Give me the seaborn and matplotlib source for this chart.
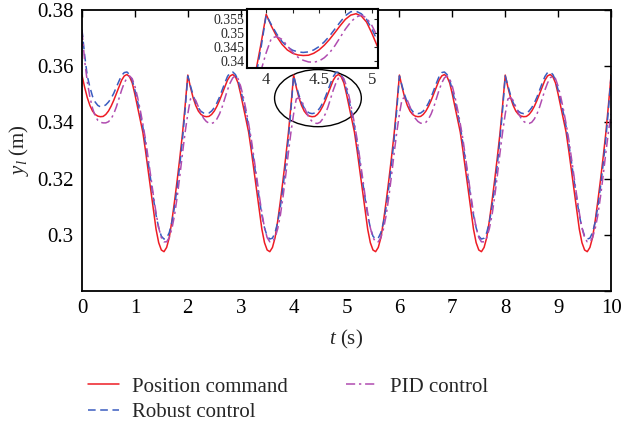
'''Position tracking y_l(t): command vs robust vs PID control, with zoom inset
'''

import numpy as np
import pandas as pd
import matplotlib
matplotlib.use('Agg')
import matplotlib.pyplot as plt
import seaborn as sns
from matplotlib.patches import Ellipse


step = 0.05
n_cycles = 5

cmd_cycle = [0.3568, 0.3525, 0.3488, 0.3460, 0.3440, 0.3428, 0.3422, 0.3420,
             0.3421, 0.3428, 0.3440, 0.3457, 0.3478, 0.3502, 0.3527, 0.3550,
             0.3565, 0.3570, 0.3562, 0.3540, 0.3500, 0.3455, 0.3410, 0.3365,
             0.3300, 0.3230, 0.3160, 0.3090, 0.3020, 0.2972, 0.2946, 0.2940,
             0.2955, 0.2990, 0.3050, 0.3120, 0.3195, 0.3275, 0.3360, 0.3460]

robust_cycle = [0.3565, 0.3530, 0.3497, 0.3470, 0.3451, 0.3439, 0.3433, 0.3431,
                0.3433, 0.3440, 0.3452, 0.3469, 0.3490, 0.3515, 0.3540, 0.3563,
                0.3577, 0.3579, 0.3570, 0.3550, 0.3515, 0.3475, 0.3432, 0.3385,
                0.3325, 0.3260, 0.3195, 0.3130, 0.3070, 0.3025, 0.2995, 0.2985,
                0.2988, 0.3008, 0.3045, 0.3100, 0.3170, 0.3250, 0.3340, 0.3445]

pid_cycle = [0.3430, 0.3483, 0.3488, 0.3478, 0.3455, 0.3432, 0.3414, 0.3403,
             0.3397, 0.3396, 0.3400, 0.3412, 0.3430, 0.3455, 0.3485, 0.3515,
             0.3540, 0.3558, 0.3565, 0.3555, 0.3528, 0.3490, 0.3445, 0.3395,
             0.3340, 0.3275, 0.3208, 0.3140, 0.3078, 0.3025, 0.2990, 0.2975,
             0.2975, 0.2990, 0.3022, 0.3070, 0.3135, 0.3210, 0.3290, 0.3365]

# start-up transient of the controlled outputs (t = 0.00 ... 0.75)
robust_start = [0.3730, 0.3640, 0.3565, 0.3525, 0.3492, 0.3472, 0.3460, 0.3455,
                0.3457, 0.3462, 0.3472, 0.3485, 0.3503, 0.3525, 0.3547, 0.3567]
pid_start = [0.3725, 0.3620, 0.3545, 0.3490, 0.3450, 0.3422, 0.3407, 0.3400,
             0.3398, 0.3398, 0.3402, 0.3412, 0.3430, 0.3455, 0.3485, 0.3515]

labels = ['Position command', 'Robust control', 'PID control']
colors = {'Position command': '#ee1c24', 'Robust control': '#3a5cc0', 'PID control': '#b04cb0'}
dashes = {'Position command': '', 'Robust control': (5, 3), 'PID control': (6, 2.5, 1.5, 2.5)}


def build(cycle, start=None):
    y = np.concatenate([np.tile(cycle, n_cycles), [cycle[0]]])
    if start is not None:
        y[:len(start)] = start
    return y


t = np.round(np.arange(0, 10 + step / 2, step), 2)
df = pd.DataFrame({'t': t,
                   'Position command': build(cmd_cycle),
                   'Robust control': build(robust_cycle, robust_start),
                   'PID control': build(pid_cycle, pid_start)})
df = df.melt(id_vars='t', var_name='series', value_name='y')

sns.set_style('white')
plt.rcParams.update({'font.family': ['Liberation Serif', 'DejaVu Serif'],
                     'mathtext.fontset': 'custom',
                     'mathtext.rm': 'Liberation Serif',
                     'mathtext.it': 'Liberation Serif:italic',
                     'xtick.direction': 'in', 'ytick.direction': 'in',
                     'xtick.top': True, 'ytick.right': True,
                     'axes.edgecolor': 'black', 'axes.linewidth': 1.3})

fig = plt.figure(figsize=(6.21, 4.28), dpi=100)
ax = fig.add_axes([0.132, 0.320, 0.852, 0.657])

sns.lineplot(data=df, x='t', y='y', hue='series', style='series', hue_order=labels,
             style_order=labels, palette=colors, dashes=dashes, linewidth=1.1,
             legend=False, ax=ax)

ax.set_xlim(0, 10)
ax.set_ylim(0.28, 0.38)
ax.set_xticks(range(11))
ax.set_yticks([0.28, 0.30, 0.32, 0.34, 0.36, 0.38])
ax.set_yticklabels(['', '0.3', '0.32', '0.34', '0.36', '0.38'])
ax.tick_params(labelsize=15, length=5, width=1, colors='black', pad=6)
ax.set_xlabel('$t$ (s)', fontsize=15, labelpad=7)
ax.set_ylabel('$y_l$ (m)', fontsize=15, labelpad=4)

ax.add_patch(Ellipse((4.46, 0.3486), 1.64, 0.0203, fill=False, edgecolor='black', lw=1))

# zoom inset
axins = fig.add_axes([0.398, 0.841, 0.211, 0.138])
sns.lineplot(data=df, x='t', y='y', hue='series', style='series', hue_order=labels,
             style_order=labels, palette=colors, dashes=dashes, linewidth=1.1,
             legend=False, ax=axins)
axins.set_facecolor('white')
axins.set_xlim(3.82, 5.06)
axins.set_ylim(0.3375, 0.3587)
axins.set_xticks([4, 4.25, 4.5, 4.75, 5])
axins.set_xticklabels(['4', '', '4.5', '', '5'])
axins.set_yticks([0.34, 0.345, 0.35, 0.355])
axins.set_yticklabels(['0.34', '0.345', '0.35', '0.355'])
axins.tick_params(axis='x', labelsize=12, length=3, width=0.8, pad=3)
axins.tick_params(axis='y', labelsize=10, length=3, width=0.8, pad=2)
axins.set_xlabel('')
axins.set_ylabel('')
for s in axins.spines.values():
    s.set_linewidth(1.5)

handles = ax.get_lines()[:3]
fig.legend(handles, labels, loc='center left', bbox_to_anchor=(0.125, 0.066), ncol=2,
           frameon=False, fontsize=15, handlelength=1.5, handletextpad=0.6,
           columnspacing=2.8, labelspacing=0.3, borderpad=0)

plt.savefig('out.png', dpi=100)
